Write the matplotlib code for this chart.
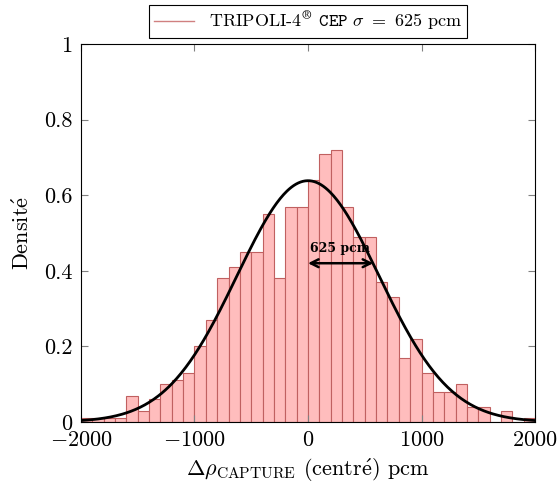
import numpy as np
import matplotlib
matplotlib.use("Agg")
import matplotlib.pyplot as plt
from matplotlib.lines import Line2D

# histogram of centred capture reactivity (pcm), bins of 100 pcm
bin_left = np.arange(-2000, 2000, 100)
density = [0.01, 0.01, 0.01, 0.01, 0.07, 0.03, 0.06, 0.10, 0.11, 0.13,
           0.20, 0.27, 0.38, 0.41, 0.45, 0.45, 0.55, 0.38, 0.57, 0.57,
           0.64, 0.71, 0.72, 0.57, 0.49, 0.49, 0.37, 0.33, 0.17, 0.22,
           0.13, 0.08, 0.08, 0.10, 0.04, 0.04, 0.00, 0.03, 0.00, 0.01]
sigma = 625.0
mu = 0.0
xticks = [-2000, -1000, 0, 1000, 2000]
yticks = [0, 0.2, 0.4, 0.6, 0.8, 1.0]
ytick_labels = ["0", "0.2", "0.4", "0.6", "0.8", "1"]
legend_label = r"TRIPOLI-4$^{\circledR}$ $\mathtt{CEP}$ $\sigma\ =\ 625$ pcm"

plt.rcParams["font.family"] = ["cmr10", "DejaVu Serif"]
plt.rcParams["mathtext.fontset"] = "cm"
plt.rcParams["axes.formatter.use_mathtext"] = True

fig = plt.figure(figsize=(5.6, 4.92), dpi=100)
ax = fig.add_axes([0.1446, 0.1423, 0.8108, 0.7683])

ax.bar(bin_left, density, width=100, align="edge",
       facecolor="#ffbdbd", edgecolor="#c06060", linewidth=0.8)

xs = np.linspace(-2000, 2000, 400)
gauss = 1000 * np.exp(-(xs - mu) ** 2 / (2 * sigma ** 2)) / (sigma * np.sqrt(2 * np.pi))
ax.plot(xs, gauss, color="black", linewidth=2)

ax.annotate("", xy=(575, 0.42), xytext=(0, 0.42),
            arrowprops=dict(arrowstyle="<->", color="black", lw=1.8,
                            shrinkA=0, shrinkB=0, mutation_scale=14))
ax.text(285, 0.443, "625 pcm", ha="center", va="bottom", fontsize=9,
        fontweight="bold", family=["DejaVu Serif"])

ax.set_xlim(-2000, 2000)
ax.set_ylim(0, 1)
ax.set_xticks(xticks)
ax.set_yticks(yticks)
ax.set_yticklabels(ytick_labels)
ax.tick_params(direction="in", top=True, right=True, length=5,
               color="#808080", labelsize=16, pad=6)
ax.set_xlabel(r"$\Delta\rho_{\mathrm{CAPTURE}}$ (centr$\mathrm{\acute{e}}$) pcm",
              fontsize=16, labelpad=5)
ax.set_ylabel(r"Densit$\mathrm{\acute{e}}$", fontsize=16, labelpad=8)

h = Line2D([], [], color="#d08080", linewidth=1)
leg = ax.legend([h], [legend_label], loc="lower center",
                bbox_to_anchor=(0.5, 1.005), fancybox=False,
                edgecolor="black", framealpha=1, handlelength=2.2,
                fontsize=13, borderaxespad=0.2, borderpad=0.3)
leg.get_frame().set_linewidth(0.8)

fig.savefig("out.png", dpi=100)
